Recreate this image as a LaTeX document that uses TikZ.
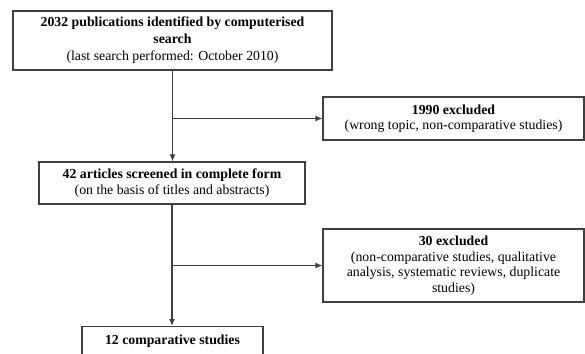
\documentclass[tikz,border=0pt]{standalone}
\usepackage{fontspec}
\setmainfont{Liberation Serif}
\usetikzlibrary{arrows,arrows.meta}

\tikzset{box/.style={draw=black!75, line width=1.2pt, align=center, inner sep=2pt,
                     font=\fontsize{13.8}{15.5}\selectfont},
         flow/.style={draw=black!75, line width=1.2pt, -{Latex[length=7pt,width=6pt]}}}

\begin{document}
\begin{tikzpicture}[x=1pt,y=-1pt]
                      \useasboundingbox (0,0) rectangle (585,353);
                      \node[box, minimum width=319pt, minimum height=59pt, font=\fontsize{13.8}{17}\selectfont] (search) at (172.5,40.5)
                          {\textbf{2032 publications identified by computerised}\\ \textbf{search}\\ (last search performed: October 2010)};
                      \node[box, minimum width=261pt, minimum height=43pt] (excl1) at (453.5,118.5)
                          {\textbf{1990 excluded}\\ (wrong topic, non-comparative studies)};
                      \node[box, minimum width=266pt, minimum height=42pt] (screened) at (172,183)
                          {\textbf{42 articles screened in complete form}\\ (on the basis of titles and abstracts)};
                      \node[box, minimum width=261pt, minimum height=73pt] (excl2) at (453.5,265.5)
                          {\textbf{30 excluded}\\ (non-comparative studies, qualitative\\ analysis, systematic reviews, duplicate\\ studies)};
                      \node[box, minimum width=181pt, minimum height=29pt, anchor=north] (incl) at (172.5,326)
                          {\textbf{12 comparative studies}};
                      \draw[flow] (search.south) -- (search.south |- screened.north);
                      \draw[flow] (search.south |- excl1.west) -- (excl1.west);
                      \draw[flow] (screened.south) -- (screened.south |- incl.north);
                      \draw[flow] (screened.south |- excl2.west) -- (excl2.west);
                  \end{tikzpicture}
\end{document}
